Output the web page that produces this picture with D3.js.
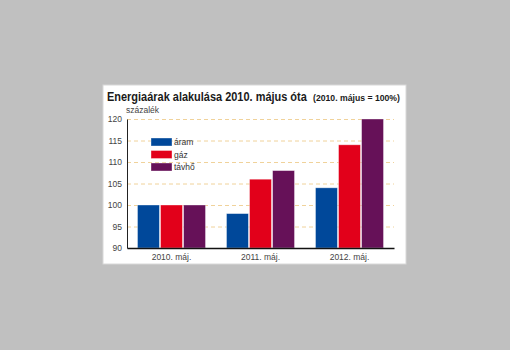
<!DOCTYPE html>
<html>
<head>
<meta charset="utf-8">
<script src="https://cdn.jsdelivr.net/npm/d3@7"></script>
<style>
  body { margin: 0; background: #c0c0c0; }
  svg { display: block; }
  text { font-family: "Liberation Sans", sans-serif; }
</style>
</head>
<body>
<div id="chart"></div>
<script>
// categories and series
var categories = ["2010. máj.", "2011. máj.", "2012. máj."];
var seriesNames = ["áram", "gáz", "távhő"];
var aram = [100, 98, 104];
var gaz = [100, 106, 114];
var tavho = [100, 108, 120];
var yTicks = [90, 95, 100, 105, 110, 115, 120];
var colors = ["#00489a", "#e2001a", "#661158"];

var seriesValues = [aram, gaz, tavho];

var svg = d3.select("#chart")
  .append("svg")
  .attr("width", 510)
  .attr("height", 350);

// white panel
svg.append("rect")
  .attr("x", 103).attr("y", 85)
  .attr("width", 303).attr("height", 179)
  .attr("fill", "#fff")
  .attr("stroke", "#d8d8d8")
  .attr("stroke-width", 1);

// title, squeezed horizontally to the width of the original narrow font
function squeezedText(x, yPos, size, target, str) {
  var holder = svg.append("g");
  var t = holder.append("text")
    .attr("fill", "#1a1a1a")
    .style("font-weight", "bold")
    .style("font-size", size + "px")
    .text(str);
  var w = t.node().getComputedTextLength();
  holder.attr("transform", "translate(" + x + "," + yPos + ") scale(" + (target / w) + ",1)");
}
squeezedText(107, 101, 13, 200, "Energiaárak alakulása 2010. május óta");
squeezedText(313, 101, 8.5, 87, "(2010. május = 100%)");

var margin = { top: 119, left: 127 },
  width = 267,
  height = 129;

var g = svg.append("g")
  .attr("transform", "translate(" + margin.left + "," + margin.top + ")");

var y = d3.scaleLinear()
  .domain([90, 120])
  .range([height, 0]);

var x = d3.scaleBand()
  .domain(categories)
  .range([0, width])
  .paddingInner(0.236)
  .paddingOuter(0.118);

var xs = d3.scaleBand()
  .domain(seriesNames)
  .range([0, x.bandwidth()])
  .paddingInner(0.05);

// gridlines
g.selectAll(".grid")
  .data(yTicks.filter(function (d) { return d > 90; }))
  .enter()
  .append("line")
  .attr("x1", 0)
  .attr("x2", width)
  .attr("y1", function (d) { return y(d) + 0.5; })
  .attr("y2", function (d) { return y(d) + 0.5; })
  .attr("stroke", "#f0d29a")
  .attr("stroke-width", 1)
  .attr("stroke-dasharray", "4,3");

// y axis
var yAxis = g.append("g")
  .call(d3.axisLeft(y).tickValues(yTicks).tickSize(0).tickPadding(5));
yAxis.select(".domain").attr("stroke", "#222").attr("stroke-width", 1);
yAxis.selectAll("text")
  .attr("fill", "#444")
  .style("font-size", "8.5px");

g.append("text")
  .attr("x", -1).attr("y", -6)
  .attr("fill", "#444")
  .style("font-size", "8.5px")
  .text("százalék");

// bars
var groups = g.selectAll(".grp")
  .data(categories)
  .enter()
  .append("g")
  .attr("transform", function (d) { return "translate(" + x(d) + ",0)"; });

groups.selectAll("rect")
  .data(function (d, i) {
    return seriesNames.map(function (s, j) {
      return { series: s, value: seriesValues[j][i], color: colors[j] };
    });
  })
  .enter()
  .append("rect")
  .attr("x", function (d) { return xs(d.series); })
  .attr("y", function (d) { return y(d.value); })
  .attr("width", xs.bandwidth())
  .attr("height", function (d) { return height - y(d.value); })
  .attr("fill", function (d) { return d.color; })
  .attr("stroke", "rgba(255,255,255,0.45)")
  .attr("stroke-width", 0.8);

// x axis
var xAxis = g.append("g")
  .attr("transform", "translate(0," + height + ")")
  .call(d3.axisBottom(x).tickSize(0).tickPadding(6));
xAxis.select(".domain").attr("stroke", "#111").attr("stroke-width", 1.5);
xAxis.selectAll("text")
  .attr("fill", "#444")
  .style("font-size", "8.5px");

// legend
var legend = svg.append("g")
  .attr("transform", "translate(151,138)");
var items = legend.selectAll("g")
  .data(seriesNames)
  .enter()
  .append("g")
  .attr("transform", function (d, i) { return "translate(0," + (i * 12.5) + ")"; });
items.append("rect")
  .attr("width", 21).attr("height", 8)
  .attr("fill", function (d, i) { return colors[i]; })
  .attr("stroke", "rgba(255,255,255,0.45)")
  .attr("stroke-width", 0.8);
items.append("text")
  .attr("x", 23).attr("y", 7)
  .attr("fill", "#333")
  .style("font-size", "8.5px")
  .text(function (d) { return d; });
</script>
</body>
</html>
